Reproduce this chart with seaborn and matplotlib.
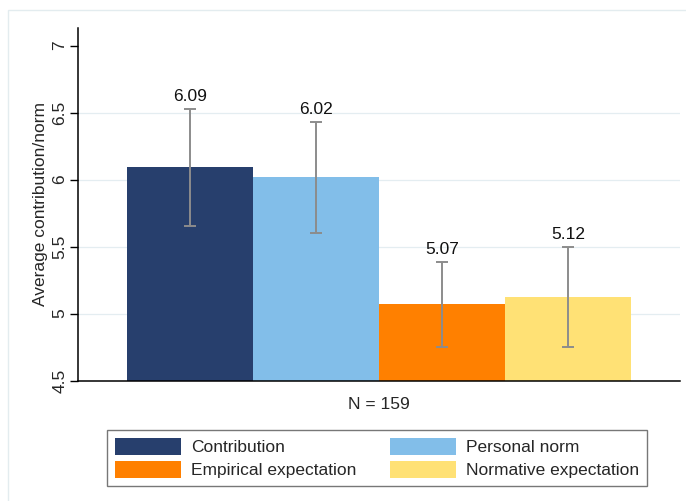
import matplotlib
matplotlib.use("Agg")
import matplotlib.pyplot as plt
from matplotlib.patches import Rectangle, Patch
import seaborn as sns
import pandas as pd

# Mean values with 95% confidence bounds
series = ["Contribution", "Personal norm", "Empirical expectation", "Normative expectation"]
means = [6.09, 6.02, 5.07, 5.12]
ci_low = [5.653, 5.600, 4.750, 4.752]
ci_high = [6.524, 6.429, 5.384, 5.498]
colors = ["#273f6d", "#82bee9", "#ff8000", "#ffe175"]
group_label = "N = 159"
y_ticks = [4.5, 5, 5.5, 6, 6.5, 7]
y_tick_labels = ["4.5", "5", "5.5", "6", "6.5", "7"]
grid_values = [5, 5.5, 6, 6.5]

sns.set_theme(style="white")
plt.rcParams["font.family"] = ["Liberation Sans", "DejaVu Sans"]
FS = 12.5

W, H = 686, 501
fig = plt.figure(figsize=(W / 100, H / 100), dpi=100)
ax = fig.add_axes([78 / W, 1 - 380.5 / H, (680 - 78) / W, (380.5 - 28) / H])

df = pd.DataFrame({"group": [group_label] * len(series), "series": series, "mean": means})
sns.barplot(data=df, x="group", y="mean", hue="series", hue_order=series,
            palette=colors, errorbar=None, width=0.8, saturation=1,
            linewidth=0, legend=False, ax=ax)

ax.set_ylim(4.5, 4.5 + 352.5 / 134)
ax.set_xlim(-0.478, 0.478)

# light horizontal grid behind the bars
for g in grid_values:
    ax.axhline(g, color="#e4edf1", lw=0.9, zorder=0)

# confidence intervals and value labels above each bar
for cont, m, lo, hi in zip(ax.containers, means, ci_low, ci_high):
    bar = cont.patches[0]
    xc = bar.get_x() + bar.get_width() / 2
    ax.errorbar([xc], [m], yerr=[[m - lo], [hi - m]], fmt="none",
                ecolor="#8c8c8c", elinewidth=1.4, capsize=4.5, capthick=1.4, zorder=3)
    ax.text(xc, hi + 0.095, f"{m:.2f}", ha="center", va="center",
            fontsize=FS, color="#111111")

ax.set_yticks(y_ticks)
ax.set_yticklabels(y_tick_labels, rotation=90, va="center", fontsize=FS)
ax.tick_params(axis="y", length=6, width=1, color="black", pad=1.5, left=True)
ax.tick_params(axis="x", length=0, pad=12, labelsize=FS)
ax.set_xlabel("")
ax.set_ylabel("Average contribution/norm", fontsize=FS, labelpad=3)
for s in ["top", "right"]:
    ax.spines[s].set_visible(False)
for s in ["left", "bottom"]:
    ax.spines[s].set_color("black")
    ax.spines[s].set_linewidth(1.1)

# legend laid out row by row (matplotlib fills columns first)
order = [0, 2, 1, 3]
handles = [Patch(facecolor=colors[i], edgecolor="none") for i in order]
labels = [series[i] for i in order]
leg = fig.legend(handles, labels, ncol=2, loc="upper left",
                 bbox_to_anchor=(107 / W, 1 - 430 / H), frameon=True, fontsize=FS,
                 handlelength=3.8, handleheight=1.15, handletextpad=0.6,
                 columnspacing=1.9, labelspacing=0.32, borderpad=0.45,
                 borderaxespad=0, fancybox=False)
leg.get_frame().set_edgecolor("#555555")
leg.get_frame().set_linewidth(1.0)

# faint outer region outline
fig.add_artist(Rectangle((8 / W, -0.05), 1.1, 1 - 10 / H + 0.05, transform=fig.transFigure,
                         fill=False, edgecolor="#e3ecef", lw=1.0))

fig.savefig("out.png", dpi=100)
